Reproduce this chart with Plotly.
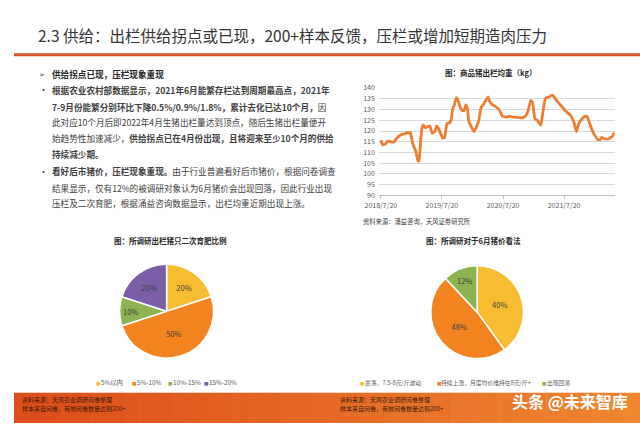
import plotly.graph_objects as go

W, H = 640, 427

# ---------------- data ----------------
weight_dates = [
    "2018-07-20", "2018-07-30", "2018-08-18", "2018-08-28", "2018-09-17", "2018-10-06",
    "2018-10-16", "2018-11-04", "2018-11-24", "2018-12-13", "2018-12-23", "2019-01-02",
    "2019-01-12", "2019-01-18", "2019-01-31", "2019-02-14", "2019-02-26", "2019-03-05",
    "2019-03-13", "2019-03-21", "2019-03-31", "2019-04-10", "2019-04-25", "2019-05-09",
    "2019-05-23", "2019-06-07", "2019-06-19", "2019-06-27", "2019-07-12", "2019-07-26",
    "2019-08-05", "2019-08-20", "2019-09-03", "2019-09-13", "2019-09-23", "2019-10-02",
    "2019-10-14", "2019-10-26", "2019-11-07", "2019-11-20", "2019-11-30", "2019-12-10",
    "2019-12-20", "2019-12-29", "2020-01-12", "2020-01-28", "2020-02-12", "2020-02-26",
    "2020-03-11", "2020-03-26", "2020-04-11", "2020-04-22", "2020-04-29", "2020-05-13",
    "2020-06-07", "2020-06-30", "2020-07-16", "2020-08-09", "2020-08-28", "2020-09-17",
    "2020-10-06", "2020-10-26", "2020-11-14", "2020-12-04", "2020-12-17", "2021-01-02",
    "2021-01-12", "2021-01-27", "2021-02-10", "2021-03-02", "2021-03-15", "2021-03-31",
    "2021-04-19", "2021-05-09", "2021-05-19", "2021-06-07", "2021-07-03", "2021-07-26",
    "2021-08-18", "2021-09-03", "2021-09-19", "2021-10-02", "2021-10-16", "2021-11-05",
    "2021-11-24", "2021-12-06", "2021-12-20", "2022-01-08", "2022-01-24", "2022-02-06",
    "2022-02-22", "2022-03-02", "2022-03-17", "2022-04-16", "2022-04-25", "2022-05-05",
    "2022-05-15",
]
weight_kg = [
    115.7, 113.7, 114.0, 115.2, 115.0, 114.8,
    116.0, 117.5, 118.5, 118.7, 119.4, 119.0,
    119.3, 117.5, 113.0, 110.7, 106.2, 106.0,
    113.0, 120.5, 122.8, 121.5, 122.0, 122.3,
    119.0, 119.7, 122.4, 121.5, 119.0, 116.7,
    117.0, 123.5, 123.8, 125.0, 130.2, 132.0,
    135.5, 134.0, 131.0, 129.5, 129.5, 132.2,
    130.2, 124.2, 122.0, 119.7, 122.0, 125.0,
    131.0, 132.5, 134.7, 135.9, 134.0, 132.5,
    131.3, 129.5, 126.9, 126.5, 126.8, 126.5,
    126.5, 126.2, 126.2, 127.2, 129.5, 134.3,
    133.2, 125.7, 125.0, 122.7, 128.7, 135.2,
    135.8, 136.7, 136.2, 134.0, 131.7, 129.5,
    128.0, 126.5, 123.5, 119.7, 123.5, 125.7,
    126.9, 126.5, 123.5, 119.7, 117.5, 116.0,
    116.0, 117.0, 116.4, 116.4, 117.0, 117.5,
    119.3,
]
x_tick_vals = ["2018-07-20", "2019-07-20", "2020-07-20", "2021-07-20"]
x_tick_text = ["2018/7/20", "2019/7/20", "2020/7/20", "2021/7/20"]

fatten_labels = ["5%以内", "5%-10%", "10%-15%", "15%-20%"]
fatten_values = [20, 50, 10, 20]

price_labels = ["震荡，7.5-8元/斤波动", "持续上涨，月度均价维持在8元/斤+", "出现回落"]
price_values = [40, 48, 12]

# ---------------- helpers ----------------
def px(x):
    return x / W

def py(y):
    return 1 - y / H

FONT = "Noto Sans CJK SC"
fatten_colors = ["#F8BC33", "#F3831F", "#8CB251", "#7B5EA7"]
price_colors = ["#F8BC33", "#F3831F", "#8CB251"]

fig = go.Figure()

# line chart
fig.add_trace(go.Scatter(
    x=weight_dates, y=weight_kg, mode="lines",
    line=dict(color="#ED7D31", width=2.8, shape="spline", smoothing=0.5),
    showlegend=False, hoverinfo="skip",
    xaxis="x", yaxis="y",
))

# pies
fig.add_trace(go.Pie(
    labels=fatten_labels, values=fatten_values, sort=False, direction="clockwise",
    rotation=0, marker=dict(colors=fatten_colors, line=dict(color="white", width=1.5)),
    texttemplate="%{value}%", textposition="inside", insidetextorientation="horizontal",
    textfont=dict(family=FONT, size=7.5, color="#404040"),
    domain=dict(x=[px(108), px(204)], y=[py(361), py(264)]),
    showlegend=False, hoverinfo="skip",
))
fig.add_trace(go.Pie(
    labels=price_labels, values=price_values, sort=False, direction="clockwise",
    rotation=0, marker=dict(colors=price_colors, line=dict(color="white", width=1.5)),
    texttemplate="%{value}%", textposition="inside", insidetextorientation="horizontal",
    textfont=dict(family=FONT, size=7.5, color="#404040"),
    domain=dict(x=[px(426), px(521)], y=[py(361), py(266)]),
    showlegend=False, hoverinfo="skip",
))

shapes = []
# title underline
shapes.append(dict(type="line", xref="paper", yref="paper", x0=0, x1=1,
                   y0=py(50), y1=py(50), line=dict(color="#D4572B", width=3)))
# bottom gradient band
n = 40
c0 = (0xDC, 0x4E, 0x1A)
c1 = (0xF0, 0x86, 0x30)
for i in range(n):
    t = i / (n - 1)
    c = tuple(int(c0[k] + (c1[k] - c0[k]) * t) for k in range(3))
    shapes.append(dict(type="rect", xref="paper", yref="paper",
                       x0=px(W * i / n), x1=px(W * (i + 1) / n + 0.6),
                       y0=0, y1=py(396), line=dict(width=0),
                       fillcolor="rgb(%d,%d,%d)" % c, layer="below"))

ann = []
def text(x, y, s, size=9, color="#404040", anchor="left", bold=False):
    ann.append(dict(x=px(x), y=py(y), xref="paper", yref="paper", text=("<b>%s</b>" % s) if bold else s,
                    showarrow=False, xanchor=anchor, yanchor="middle",
                    font=dict(family=FONT, size=size, color=color)))

# title
text(22, 30, "2.3 供给：出栏供给拐点或已现，200+样本反馈，压栏或增加短期造肉压力", size=15.5, color="#333333")

# body text
LX = 37
text(24, 70, "➢", size=7, color="#404040")
text(LX, 70, "<b>供给拐点已现，压栏现象重现</b>", size=8.6, color="#262626")
text(24, 86, "·", size=9, color="#404040")
body = [
    (86, "<b>根据农业农村部数据显示，2021年6月能繁存栏达到周期最高点，2021年</b>"),
    (103, "<b>7-9月份能繁分别环比下降0.5%/0.9%/1.8%，累计去化已达10个月，</b>因"),
    (119, "此对应10个月后即2022年4月生猪出栏量达到顶点，随后生猪出栏量便开"),
    (135, "始趋势性加速减少，<b>供给拐点已在4月份出现，且将迎来至少10个月的供给</b>"),
    (152, "<b>持续减少期。</b>"),
    (169, "<b>看好后市猪价，压栏现象重现。</b>由于行业普遍看好后市猪价，根据问卷调查"),
    (186, "结果显示，仅有12%的被调研对象认为6月猪价会出现回落，因此行业出现"),
    (202, "压栏及二次育肥，根据涌益咨询数据显示，出栏均重近期出现上涨。"),
]
for y, s in body:
    text(LX, y, s, size=8.6, color="#404040")
text(24, 169, "·", size=9, color="#404040")

# chart titles
text(487, 68, "图：商品猪出栏均重（kg）", size=7.5, color="#262626", anchor="center", bold=True)
text(160, 240, "图：所调研出栏猪只二次育肥比例", size=7.5, color="#262626", anchor="center", bold=True)
text(470, 240, "图：所调研对于6月猪价看法", size=7.5, color="#262626", anchor="center", bold=True)
text(355, 221, "资料来源：涌益咨询，天风证券研究所", size=6.3, color="#404040")

# legends
left_leg_x = [82, 119, 155, 192]
for xx, lab, col in zip(left_leg_x, fatten_labels, fatten_colors):
    text(xx, 386, "■", size=4.5, color=col)
    text(xx + 5, 386, lab, size=6.3, color="#595959")
right_leg_x = [352, 430, 538]
for xx, lab, col in zip(right_leg_x, price_labels, price_colors):
    text(xx, 386, "■", size=4.5, color=col)
    text(xx + 5, 386, lab, size=5.8, color="#595959")

# band texts
for bx in (6, 331):
    text(bx, 403, "资料来源：天风农业调研问卷整理", size=6, color="#3B1A0A")
    text(bx, 412.5, "样本来自问卷，有效问卷数量达到200+", size=6, color="#3B1A0A")
text(568, 404, "<b>头条 @未来智库</b>", size=16, color="#FFFFFF", anchor="center")

fig.update_layout(
    width=W, height=H,
    margin=dict(l=0, r=0, t=0, b=0),
    paper_bgcolor="white", plot_bgcolor="white",
    shapes=shapes, annotations=ann,
    xaxis=dict(
        domain=[px(373), px(614)], type="date",
        range=["2018-07-08", "2022-05-18"],
        tickvals=x_tick_vals, ticktext=x_tick_text,
        showgrid=False, showline=True, linecolor="#BFBFBF", linewidth=1,
        ticks="outside", ticklen=3, tickcolor="#BFBFBF",
        tickfont=dict(family=FONT, size=7, color="#595959"),
        zeroline=False, fixedrange=True,
    ),
    yaxis=dict(
        domain=[py(194), py(84)], range=[90, 140], dtick=5,
        showgrid=True, gridcolor="#D9D9D9", gridwidth=1,
        showline=False, zeroline=False, ticks="",
        tickfont=dict(family=FONT, size=7, color="#595959"),
        ticklabelstandoff=3, fixedrange=True,
    ),
)

fig.write_html("out.html")
